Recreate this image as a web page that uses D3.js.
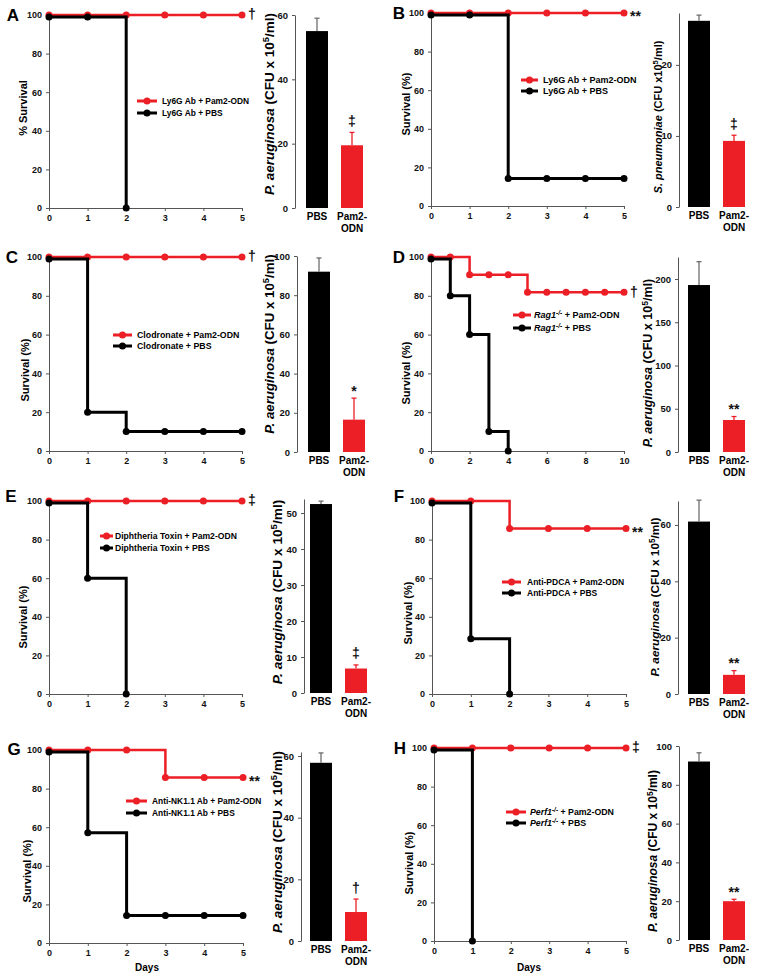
<!DOCTYPE html>
<html><head><meta charset="utf-8">
<script src="https://cdn.jsdelivr.net/npm/d3@7"></script>
<style>body{margin:0;background:#fff} svg text{font-family:"Liberation Sans",Arial,Helvetica,sans-serif;font-weight:bold}</style>
</head><body><script>
// ---------------- DATA ----------------
const days5 = [0,1,2,3,4,5];
const days10 = [0,1,2,3,4,5,6,7,8,9,10];
const categories = ["PBS","Pam2-ODN"];
const categoryLines = [["PBS"],["Pam2-","ODN"]];
const survTicks = [0,20,40,60,80,100];

// A
const aLegend = ["Ly6G Ab + Pam2-ODN","Ly6G Ab + PBS"];
const aRedDays = days5, aRed = [100,100,100,100,100,100];
const aBlackDays = [0,1,2], aBlack = [99,99,0];
const aBars = [55,19.5], aErr = [4,4];
const aMarks = ["†","‡"];
// B
const bLegend = ["Ly6G Ab + Pam2-ODN","Ly6G Ab + PBS"];
const bRedDays = days5, bRed = [100,100,100,100,100,100];
const bBlackDays = days5, bBlack = [99,99,14.3,14.3,14.3,14.3];
const bBars = [26.2,9.3], bErr = [0.8,0.8];
const bMarks = ["**","‡"];
// C
const cLegend = ["Clodronate + Pam2-ODN","Clodronate + PBS"];
const cRedDays = days5, cRed = [100,100,100,100,100,100];
const cBlackDays = days5, cBlack = [99,20,10,10,10,10];
const cBars = [92,16.5], cErr = [7,11];
const cMarks = ["†","*"];
// D
const dLegend = ["Rag1-/- + Pam2-ODN","Rag1-/- + PBS"];
const dRedDays = days10, dRed = [100,100,90.9,90.9,90.9,81.8,81.8,81.8,81.8,81.8,81.8];
const dBlackDays = [0,1,2,3,4], dBlack = [99,80,60,10,0];
const dBars = [193,37], dErr = [27,4];
const dMarks = ["†","**"];
// E
const eLegend = ["Diphtheria Toxin + Pam2-ODN","Diphtheria Toxin + PBS"];
const eRedDays = days5, eRed = [100,100,100,100,100,100];
const eBlackDays = [0,1,2], eBlack = [99,60,0];
const eBars = [52.5,6.8], eErr = [0.8,1];
const eMarks = ["‡","‡"];
// F
const fLegend = ["Anti-PDCA + Pam2-ODN","Anti-PDCA + PBS"];
const fRedDays = days5, fRed = [100,100,85.7,85.7,85.7,85.7];
const fBlackDays = [0,1,2], fBlack = [99,28.6,0];
const fBars = [61.2,6.8], fErr = [7.6,1.5];
const fMarks = ["**","**"];
// G
const gLegend = ["Anti-NK1.1 Ab + Pam2-ODN","Anti-NK1.1 Ab + PBS"];
const gRedDays = days5, gRed = [100,100,100,85.7,85.7,85.7];
const gBlackDays = days5, gBlack = [99,57.1,14.3,14.3,14.3,14.3];
const gBars = [57.8,9.4], gErr = [3.2,4.2];
const gMarks = ["**","†"];
// H
const hLegend = ["Perf1-/- + Pam2-ODN","Perf1-/- + PBS"];
const hRedDays = days5, hRed = [100,100,100,100,100,100];
const hBlackDays = [0,1], hBlack = [99,0];
const hBars = [92,20], hErr = [4.5,1];
const hMarks = ["‡","**"];

const survLabels = {A:"% Survival", other:"Survival (%)"};
const barSpecies = {A:"P. aeruginosa",B:"S. pneumoniae",C:"P. aeruginosa",D:"P. aeruginosa",E:"P. aeruginosa",F:"P. aeruginosa",G:"P. aeruginosa",H:"P. aeruginosa"};

const panels = [
 {id:"A",legend:aLegend,redDays:aRedDays,red:aRed,blackDays:aBlackDays,black:aBlack,bars:aBars,err:aErr,marks:aMarks},
 {id:"B",legend:bLegend,redDays:bRedDays,red:bRed,blackDays:bBlackDays,black:bBlack,bars:bBars,err:bErr,marks:bMarks},
 {id:"C",legend:cLegend,redDays:cRedDays,red:cRed,blackDays:cBlackDays,black:cBlack,bars:cBars,err:cErr,marks:cMarks},
 {id:"D",legend:dLegend,redDays:dRedDays,red:dRed,blackDays:dBlackDays,black:dBlack,bars:dBars,err:dErr,marks:dMarks},
 {id:"E",legend:eLegend,redDays:eRedDays,red:eRed,blackDays:eBlackDays,black:eBlack,bars:eBars,err:eErr,marks:eMarks},
 {id:"F",legend:fLegend,redDays:fRedDays,red:fRed,blackDays:fBlackDays,black:fBlack,bars:fBars,err:fErr,marks:fMarks},
 {id:"G",legend:gLegend,redDays:gRedDays,red:gRed,blackDays:gBlackDays,black:gBlack,bars:gBars,err:gErr,marks:gMarks},
 {id:"H",legend:hLegend,redDays:hRedDays,red:hRed,blackDays:hBlackDays,black:hBlack,bars:hBars,err:hErr,marks:hMarks}
];

// ---------------- LAYOUT ----------------
const layout = {
 A:{letter:[13,15], surv:{x0:49,x1:242,yt:15,yb:208,max:5,ticks:days5,lab:[23,108]}, leg:{x0:137,x1:157,y:[101,113],tx:162,fs:8.4},
    bar:{ax:295,yt:15,yb:208,max:60,ticks:[0,20,40,60],cx:[317,352],lab:[269,104],fs:13.5}},
 B:{letter:[399,13], surv:{x0:431,x1:624,yt:13,yb:206,max:5,ticks:days5,lab:[406,104]}, leg:{x0:521,x1:538,y:[80,91],tx:543,fs:9},
    bar:{ax:679,yt:13,yb:207,max:27.3,ticks:[0,10,20],cx:[699,734],lab:[658,117],fs:11}},
 C:{letter:[12,257], surv:{x0:49,x1:242,yt:257,yb:451,max:5,ticks:days5,lab:[25,370]}, leg:{x0:113,x1:132,y:[335,346],tx:137,fs:8.8},
    bar:{ax:297,yt:256,yb:452,max:100,ticks:[0,20,40,60,80,100],cx:[319,354],lab:[269,344],fs:13.3}},
 D:{letter:[399,257], surv:{x0:431,x1:624,yt:257,yb:451,max:10,ticks:[0,2,4,6,8,10],lab:[406,373]}, leg:{x0:513,x1:531,y:[315,328],tx:534,fs:9},
    bar:{ax:678,yt:257,yb:452,max:225.4,ticks:[0,50,100,150,200],cx:[699,734],lab:[648,363],fs:12.5}},
 E:{letter:[11,496], surv:{x0:49,x1:242,yt:501,yb:694,max:5,ticks:days5,lab:[23,617]}, leg:{x0:100,x1:113,y:[536,548],tx:115,fs:8.6},
    bar:{ax:304,yt:499,yb:693,max:53.9,ticks:[0,10,20,30,40,50],cx:[321,356],lab:[277,592],fs:13.7}},
 F:{letter:[399,496], surv:{x0:432,x1:626,yt:501,yb:694,max:5,ticks:days5,lab:[408,613]}, leg:{x0:502,x1:521,y:[582,593],tx:527,fs:8.5},
    bar:{ax:678,yt:501,yb:694,max:68.5,ticks:[0,20,40,60],cx:[699,734],lab:[655,597],fs:11.8}},
 G:{letter:[14,749], surv:{x0:49,x1:243,yt:750,yb:943,max:5,ticks:days5,lab:[27,871],days:[147,971]}, leg:{x0:126,x1:147,y:[801,813],tx:152,fs:8.4},
    bar:{ax:301,yt:752,yb:941,max:61.3,ticks:[0,20,40,60],cx:[321,356],lab:[277,842],fs:13.5}},
 H:{letter:[400,748], surv:{x0:434,x1:626,yt:748,yb:941,max:5,ticks:days5,lab:[409,863],days:[529,971]}, leg:{x0:506,x1:526,y:[812,823],tx:530,fs:8.8},
    bar:{ax:679,yt:746,yb:940,max:100,ticks:[0,20,40,60,80,100],cx:[699,734],lab:[653,851],fs:12}}
};

const RED = "#ec1f26", BLACK = "#000", AXC = "#555";
const fmt = d3.format("d");
const svg = d3.select("body").append("svg").attr("width",762).attr("height",978);

function styleAxis(g, fs){
  g.attr("font-family",null).attr("font-size",null);
  g.select(".domain").attr("stroke",AXC).attr("stroke-width",1);
  g.selectAll(".tick line").attr("stroke",AXC);
  g.selectAll(".tick text").attr("fill","#111").style("font-size",fs+"px");
}

function legendText(t, s){
  const m = s.match(/^(Rag1|Perf1)(-\/-)(.*)$/);
  if (m){
    t.append("tspan").attr("font-style","italic").text(m[1]);
    t.append("tspan").attr("font-style","italic").attr("font-size","0.72em").attr("dy","-0.5em").text(m[2]);
    t.append("tspan").attr("dy","0.36em").text(m[3]);
  } else t.text(s);
}

function mark(x, yc, s, fs, anchor){
  const isStar = s.indexOf("*")>=0;
  svg.append("text").attr("x",x).attr("y",yc + (isStar?0.6:0.32)*fs)
    .attr("text-anchor",anchor).style("font-size",fs+"px").attr("fill","#111").text(s);
}

function drawPanel(p){
  const L = layout[p.id], s = L.surv;
  svg.append("text").attr("x",L.letter[0]).attr("y",L.letter[1]+6).attr("text-anchor","middle")
    .style("font-size","17px").text(p.id);
  const x = d3.scaleLinear().domain([0,s.max]).range([s.x0,s.x1]);
  const y = d3.scaleLinear().domain([0,100]).range([s.yb,s.yt]);
  const gy = svg.append("g").attr("transform",`translate(${s.x0},0)`)
    .call(d3.axisLeft(y).tickValues(survTicks).tickFormat(fmt).tickSizeInner(3).tickSizeOuter(0).tickPadding(4));
  styleAxis(gy, 9);
  const gx = svg.append("g").attr("transform",`translate(0,${s.yb})`)
    .call(d3.axisBottom(x).tickValues(s.ticks).tickFormat(fmt).tickSizeInner(3).tickSizeOuter(0).tickPadding(4));
  styleAxis(gx, 9);
  svg.append("text").attr("transform",`translate(${s.lab[0]},${s.lab[1]}) rotate(-90)`)
    .attr("text-anchor","middle").attr("dy","0.35em").style("font-size","11px")
    .text(p.id==="A"?survLabels.A:survLabels.other);
  if (s.days) svg.append("text").attr("x",s.days[0]).attr("y",s.days[1]).attr("text-anchor","middle")
    .style("font-size","10px").text("Days");

  const line = d3.line().x(d=>x(d[0])).y(d=>y(d[1])).curve(d3.curveStepAfter);
  const redPts = p.redDays.map((d,i)=>[d,p.red[i]]);
  const blackPts = p.blackDays.map((d,i)=>[d,p.black[i]]);
  svg.append("path").attr("d",line(redPts)).attr("fill","none").attr("stroke",RED).attr("stroke-width",2.5);
  svg.selectAll(null).data(redPts).enter().append("circle")
    .attr("cx",d=>x(d[0])).attr("cy",d=>y(d[1])).attr("r",3.5).attr("fill",RED);
  svg.append("path").attr("d",line(blackPts)).attr("fill","none").attr("stroke",BLACK).attr("stroke-width",3);
  svg.selectAll(null).data(blackPts).enter().append("circle")
    .attr("cx",d=>x(d[0])).attr("cy",d=>y(d[1])).attr("r",3.5).attr("fill",BLACK);
  const last = redPts[redPts.length-1];
  mark(x(last[0])+6, y(last[1]), p.marks[0], 14, "start");

  const lg = L.leg;
  [RED,BLACK].forEach((c,i)=>{
    svg.append("line").attr("x1",lg.x0).attr("x2",lg.x1).attr("y1",lg.y[i]).attr("y2",lg.y[i])
      .attr("stroke",c).attr("stroke-width",3);
    svg.append("circle").attr("cx",(lg.x0+lg.x1)/2).attr("cy",lg.y[i]).attr("r",3.5).attr("fill",c);
    const t = svg.append("text").attr("x",lg.tx).attr("y",lg.y[i]).attr("dy","0.35em").style("font-size",lg.fs+"px");
    legendText(t, p.legend[i]);
  });

  const b = L.bar;
  const yb = d3.scaleLinear().domain([0,b.max]).range([b.yb,b.yt]);
  const xb = d3.scalePoint().domain(categories).range(b.cx);
  const ga = svg.append("g").attr("transform",`translate(${b.ax},0)`)
    .call(d3.axisLeft(yb).tickValues(b.ticks).tickFormat(fmt).tickSizeInner(3).tickSizeOuter(0).tickPadding(4));
  styleAxis(ga, 9.5);
  const bw = 22;
  const colors = [BLACK, RED], errCol = ["#6d6d6d", RED];
  categories.forEach((c,i)=>{
    const cx = xb(c);
    svg.append("rect").attr("x",cx-bw/2).attr("width",bw).attr("y",yb(p.bars[i]))
      .attr("height",yb(0)-yb(p.bars[i])).attr("fill",colors[i]);
    const top = yb(p.bars[i]+p.err[i]);
    svg.append("line").attr("x1",cx).attr("x2",cx).attr("y1",yb(p.bars[i])).attr("y2",top)
      .attr("stroke",errCol[i]).attr("stroke-width",1.3);
    svg.append("line").attr("x1",cx-2.5).attr("x2",cx+2.5).attr("y1",top).attr("y2",top)
      .attr("stroke",errCol[i]).attr("stroke-width",1.3);
    categoryLines[i].forEach((ln,k)=>{
      svg.append("text").attr("x",cx).attr("y",b.yb+11.5+k*12).attr("text-anchor","middle")
        .style("font-size","10px").text(ln);
    });
  });
  const c2 = xb(categories[1]);
  mark(c2, yb(p.bars[1]+p.err[1]) - 11, p.marks[1], 14, "middle");
  const t = svg.append("text").attr("transform",`translate(${b.lab[0]},${b.lab[1]}) rotate(-90)`)
    .attr("text-anchor","middle").attr("dy","0.35em").style("font-size",b.fs+"px");
  t.append("tspan").attr("font-style","italic").text(barSpecies[p.id]);
  t.append("tspan").text(p.id==="B" ? " (CFU x10" : " (CFU x 10");
  t.append("tspan").attr("font-size","0.7em").attr("dy","-0.45em").text("5");
  t.append("tspan").attr("dy","0.32em").text("/ml)");
}

panels.forEach(drawPanel);
</script></body></html>
